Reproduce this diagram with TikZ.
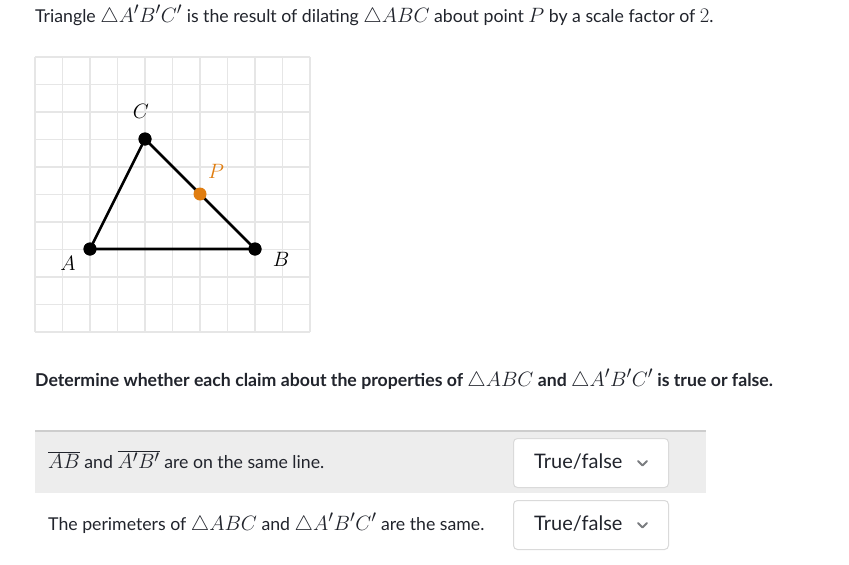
\documentclass[tikz,border=0pt]{standalone}
\usepackage{fontspec}
\setmainfont{Lato}
\DeclareMathSizes{17.7}{22.7}{16}{12}
\definecolor{txt}{HTML}{21242C}
\definecolor{gridc}{HTML}{E6E6E6}
\definecolor{rowbg}{HTML}{EDEDED}
\definecolor{rowline}{HTML}{CDCDCD}
\definecolor{porange}{HTML}{E07D10}
\definecolor{boxline}{HTML}{DADADA}
\definecolor{chev}{HTML}{7A7C80}
\tikzset{
  pt/.style={circle,fill=black,inner sep=0pt,minimum size=13pt},
  lbl/.style={inner sep=0pt,font=\fontsize{22}{26}\selectfont},
  body/.style={anchor=base west,inner sep=0pt,text=txt,font=\fontsize{17.7}{21}\selectfont},
  dd/.style={draw=boxline,fill=white,rounded corners=4pt,line width=1pt,minimum width=155pt,minimum height=49pt,anchor=north west},
  ddtext/.style={anchor=base west,inner sep=0pt,text=txt,font=\fontsize{20}{24}\selectfont},
}
\begin{document}
\begin{tikzpicture}[x=1pt,y=-1pt]
\useasboundingbox (0,0) rectangle (849,565);
\fill[white] (0,0) rectangle (849,565);
% title
\node[body] (title) at (35,22.5) {Triangle $\triangle A'B'C'$ is the result of dilating $\triangle ABC$ about point $P$ by a scale factor of $2$.};
% grid
\foreach \i in {0,...,10} {
  \draw[gridc,line width=1.6pt] (35+27.5*\i,57) -- (35+27.5*\i,332);
  \draw[gridc,line width=1.6pt] (35,57+27.5*\i) -- (310,57+27.5*\i);
}
\node[pt] (A) at (90,249) {};
\node[pt] (B) at (255,249) {};
\node[pt] (C) at (145,139) {};
\draw[line width=2.6pt,line join=round] (A.center) -- (B.center) -- (C.center) -- cycle;
\node[pt] at (A) {};
\node[pt] at (B) {};
\node[pt] at (C) {};
\node[pt,fill=porange] (P) at (200,194) {};
\node[lbl] (lA) at (68,263) {$A$};
\node[lbl] (lB) at (281,259) {$B$};
\node[lbl] (lC) at (141,111) {$C$};
\node[lbl,text=porange] (lP) at (216,171) {$P$};
% question
\node[body,font=\fontsize{17.7}{21}\selectfont\bfseries] (q) at (35,386) {Determine whether each claim about the properties of $\triangle ABC$ and $\triangle A'B'C'$ is true or false.};
% table
\fill[rowbg] (35,430) rectangle (706,493);
\draw[rowline,line width=1.5pt] (35,431) -- (706,431);
\node[body] (r1) at (48,468) {$\overline{AB}$ and $\overline{A'B'}$ are on the same line.};
\node[body] (r2) at (48,530) {The perimeters of $\triangle ABC$ and $\triangle A'B'C'$ are the same.};
\node[dd] (d1) at (513,438) {};
\node[dd] (d2) at (513,500) {};
\node[ddtext] (t1) at (534,468) {True/false};
\node[ddtext] (t2) at (534,530) {True/false};
\draw[chev,line width=1.8pt,line cap=round,line join=round] (638,461) -- (642.5,465.5) -- (647,461);
\draw[chev,line width=1.8pt,line cap=round,line join=round] (638,523) -- (642.5,527.5) -- (647,523);
\end{tikzpicture}
\end{document}
